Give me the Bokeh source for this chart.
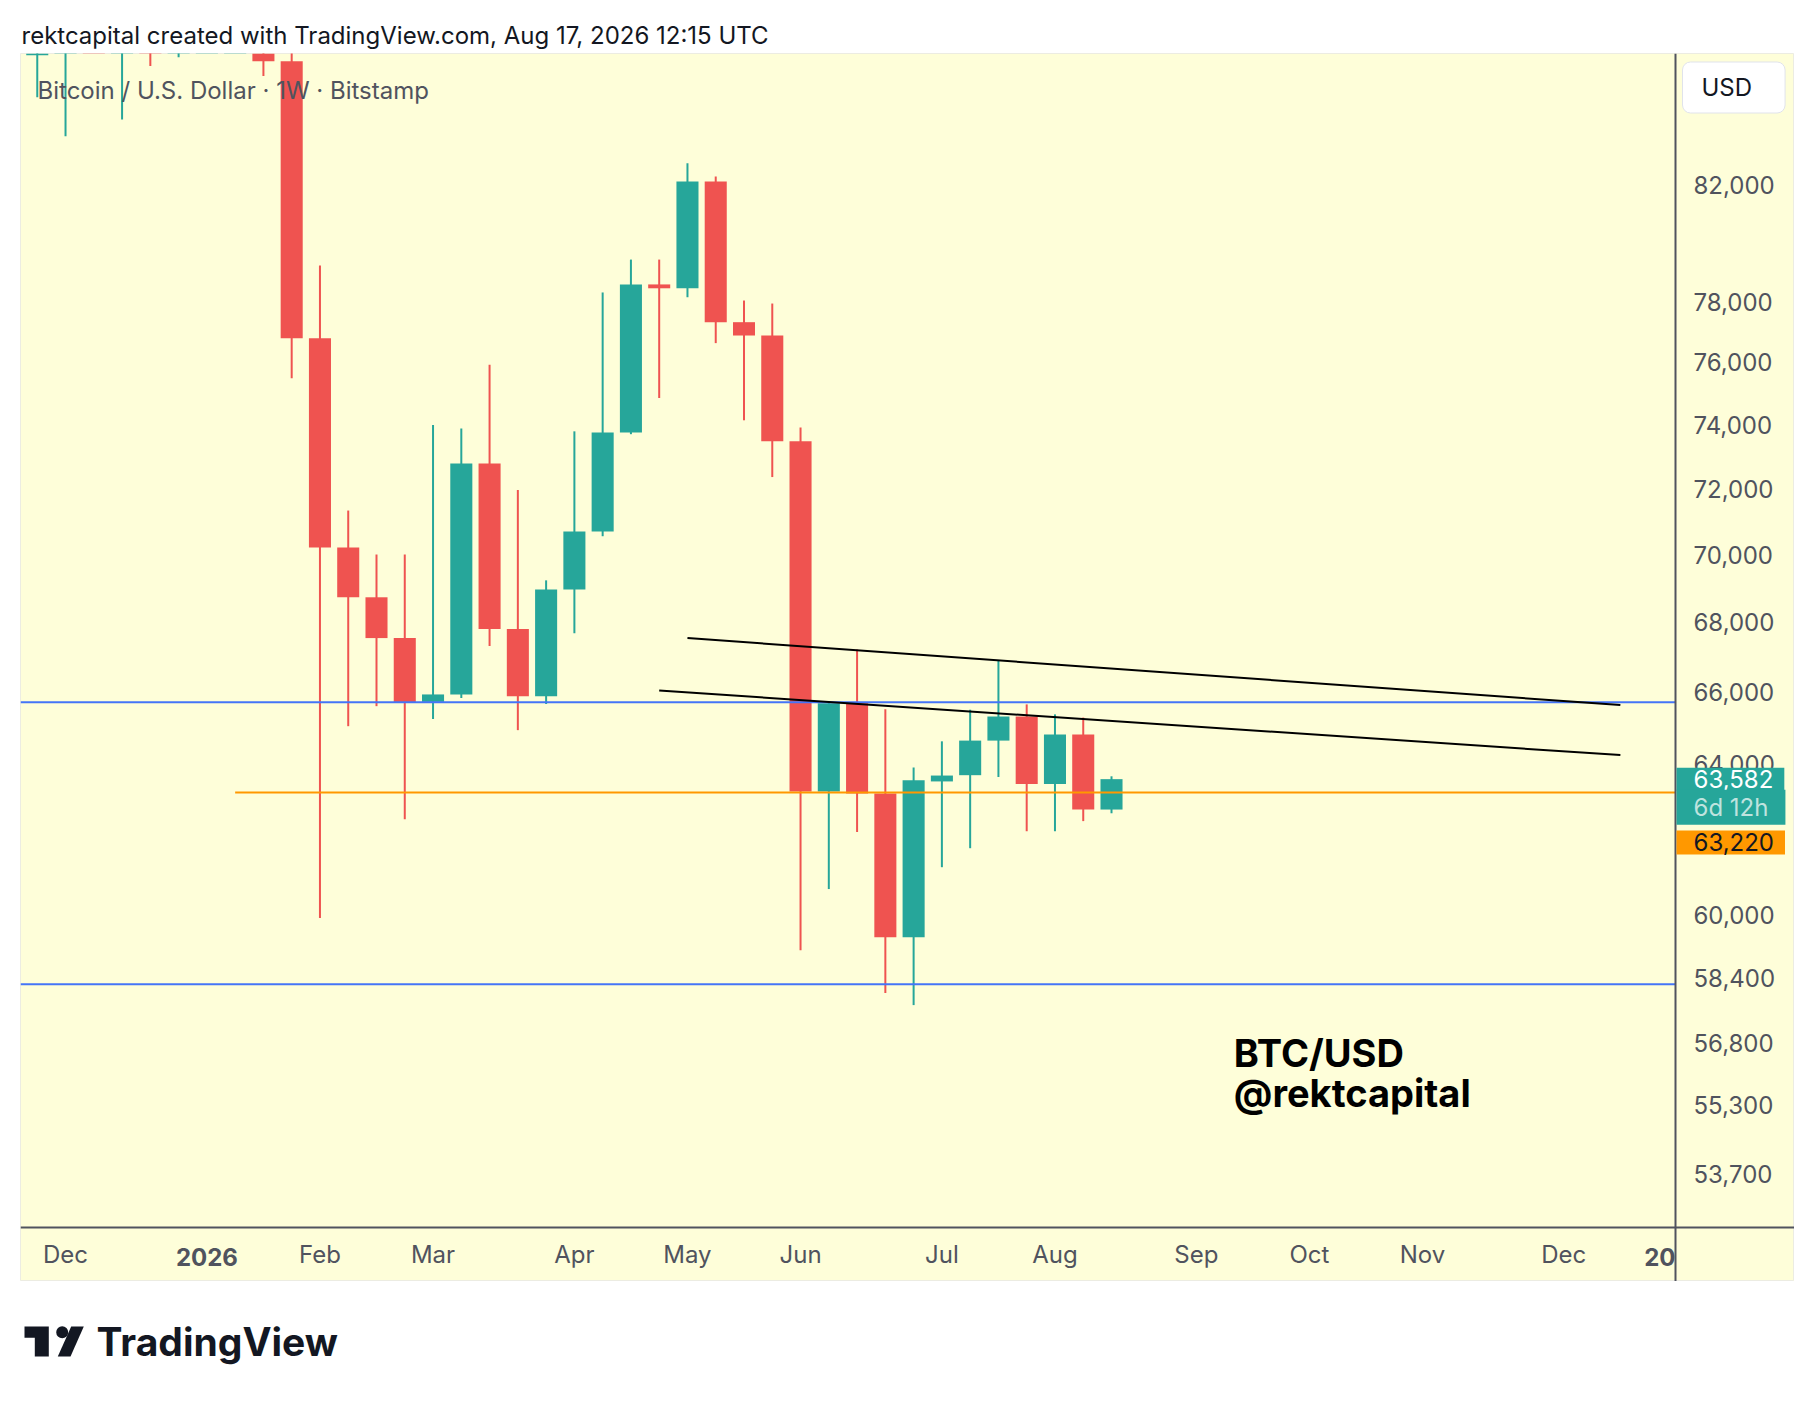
import numpy as np
import pandas as pd
from bokeh.plotting import figure
from bokeh.layouts import column
from bokeh.models import (ColumnDataSource, Range1d, FixedTicker,
                          NumeralTickFormatter, Label)
from bokeh.embed import file_html
from bokeh.resources import INLINE
from bokeh.core.properties import value

# ---------------- data ----------------
TITLE = "rektcapital created with TradingView.com, Aug 17, 2026 12:15 UTC"
SYMBOL = "Bitcoin / U.S. Dollar · 1W · Bitstamp"

WEEKS = ["2025-11-24", "2025-12-01", "2025-12-08", "2025-12-15", "2025-12-22",
         "2025-12-29", "2026-01-05", "2026-01-12", "2026-01-19", "2026-01-26",
         "2026-02-02", "2026-02-09", "2026-02-16", "2026-02-23", "2026-03-02",
         "2026-03-09", "2026-03-16", "2026-03-23", "2026-03-30", "2026-04-06",
         "2026-04-13", "2026-04-20", "2026-04-27", "2026-05-04", "2026-05-11",
         "2026-05-18", "2026-05-25", "2026-06-01", "2026-06-08", "2026-06-15",
         "2026-06-22", "2026-06-29", "2026-07-06", "2026-07-13", "2026-07-20",
         "2026-07-27", "2026-08-03", "2026-08-10", "2026-08-17"]
OPEN = [86680, 90400, 92100, 88300, 88900, 87700, 87900, 91000, 95000, 86460,
        76790, 70210, 68730, 67540, 65720, 65930, 72780, 67800, 65880, 68960,
        70690, 73750, 78580, 78450, 82120, 77320, 76880, 73480, 63250, 65680,
        63190, 59420, 63520, 63690, 64640, 65310, 63450, 64810, 62760]
HIGH = [91900, 94100, 94600, 90400, 90500, 90300, 94700, 97800, 95500, 90200,
        79220, 71330, 70000, 70000, 73990, 73880, 75920, 71960, 69230, 73790,
        78310, 79420, 79420, 82760, 82300, 78040, 77940, 73910, 65740, 67210,
        65510, 63900, 64620, 65500, 66880, 65650, 65370, 65280, 63660]
LOW = [85140, 83730, 87600, 84330, 86280, 86610, 87200, 90300, 85910, 75490,
       59910, 65040, 65600, 62500, 65240, 65830, 67310, 64930, 65660, 67680,
       70550, 73700, 74850, 78150, 76630, 74140, 72360, 59090, 60660, 62160,
       58020, 57720, 61230, 61730, 63640, 62180, 62180, 62450, 62660]
CLOSE = [90400, 92100, 88300, 88900, 87700, 87900, 91000, 95000, 86460, 76790,
         70210, 68730, 67540, 65720, 65930, 72780, 67800, 65880, 68960, 70690,
         73750, 78580, 78450, 82120, 77320, 76880, 73480, 63250, 65680, 63190,
         59420, 63550, 63680, 64640, 65310, 63450, 64810, 62760, 63582]

TICK_DATES = ["2025-12-01", "2026-01-05", "2026-02-02", "2026-03-02", "2026-04-06",
              "2026-05-04", "2026-06-01", "2026-07-06", "2026-08-03", "2026-09-07",
              "2026-10-05", "2026-11-02", "2026-12-07"]
TICK_LABELS = ["Dec", "2026", "Feb", "Mar", "Apr", "May", "Jun", "Jul", "Aug",
               "Sep", "Oct", "Nov", "Dec"]
BOLD_TICKS = ["2026"]
CUT_LABEL = "20"

PRICE_TICKS = [82000, 78000, 76000, 74000, 72000, 70000, 68000, 66000, 64000,
               60000, 58400, 56800, 55300, 53700]

BLUE_LEVELS = [65710, 58240]
ORANGE_LEVEL = 63220
ORANGE_START = "2026-01-12"
TREND_X0 = ["2026-05-04", "2026-04-27"]
TREND_Y0 = [67540, 66040]
TREND_X1 = ["2026-12-21", "2026-12-21"]
TREND_Y1 = [65630, 64240]
LAST_PRICE = 63582
COUNTDOWN = "6d 12h"
CURRENCY = "USD"
NOTE_LINES = ["BTC/USD", "@rektcapital"]
NOTE_PRICES = [56560, 55580]
BRAND = "TradingView"

# ---------------- style ----------------
RED = "#EF5350"
TEAL = "#26A69A"
BLUE = "#4474F7"
ORANGE = "#FF9800"
YELLOW = "#FEFED9"
AXIS = "#50535E"
INK = "#131722"
FONT = "Inter"


def ms(t):
    return int(pd.Timestamp(t).value // 1_000_000)


dates = pd.to_datetime(WEEKS)
last = dates[-1]
week = pd.Timedelta(weeks=1)
x_start = last - 38.593 * week
x_end = last + 24.16 * week
axis_x = last + 19.95 * week          # price-scale separator
axis_y = 52489                         # time-scale separator (price level)

df = pd.DataFrame(dict(date=dates, open=OPEN, high=HIGH, low=LOW, close=CLOSE))
df["top"] = df[["open", "close"]].max(axis=1)
df["bottom"] = df[["open", "close"]].min(axis=1)
df["color"] = np.where(df["close"] >= df["open"], TEAL, RED)
src = ColumnDataSource(df)

FIG_W, FIG_H = 1774, 1228

p = figure(width=FIG_W, height=FIG_H, x_axis_type="datetime", y_axis_type="log",
           x_range=Range1d(ms(x_start), ms(x_end)), y_range=Range1d(51279, 86745),
           y_axis_location="right", toolbar_location=None, output_backend="svg",
           min_border=0, background_fill_color=YELLOW, border_fill_color=YELLOW,
           outline_line_color="#ECECE2", outline_line_width=1,
           margin=(0, 0, 0, 12))
p.grid.visible = False

bar_w = 0.78 * 7 * 24 * 3600 * 1000
p.segment(x0="date", y0="low", x1="date", y1="high", line_color="color",
          line_width=2, source=src)
p.vbar(x="date", width=bar_w, top="top", bottom="bottom", fill_color="color",
       line_color=None, source=src)

# drawings
n_lv = len(BLUE_LEVELS)
p.segment(x0=[x_start] * n_lv, y0=BLUE_LEVELS, x1=[axis_x] * n_lv, y1=BLUE_LEVELS,
          line_color=BLUE, line_width=2)
p.segment(x0=[pd.Timestamp(ORANGE_START)], y0=[ORANGE_LEVEL], x1=[axis_x],
          y1=[ORANGE_LEVEL], line_color=ORANGE, line_width=2)
p.segment(x0=pd.to_datetime(TREND_X0), y0=TREND_Y0, x1=pd.to_datetime(TREND_X1),
          y1=TREND_Y1, line_color="black", line_width=2)

# axes (drawn inside the frame at fixed positions, like TradingView's scales)
ya = p.yaxis[0]
ya.ticker = FixedTicker(ticks=PRICE_TICKS)
ya.formatter = NumeralTickFormatter(format="0,0")
ya.fixed_location = ms(axis_x)
xa = p.xaxis[0]
tick_ms = [ms(d) for d in TICK_DATES]
xa.ticker = FixedTicker(ticks=tick_ms)
xa.major_label_overrides = {t: ("" if lab in BOLD_TICKS else lab)
                            for t, lab in zip(tick_ms, TICK_LABELS)}
xa.fixed_location = axis_y
for ax, standoff in ((ya, 18), (xa, 13)):
    ax.major_tick_line_color = None
    ax.minor_tick_line_color = None
    ax.major_tick_out = 0
    ax.major_tick_in = 0
    ax.minor_tick_out = 0
    ax.minor_tick_in = 0
    ax.axis_line_color = AXIS
    ax.axis_line_width = 2
    ax.major_label_text_font = FONT
    ax.major_label_text_font_size = "24px"
    ax.major_label_text_color = AXIS
    ax.major_label_standoff = standoff

LABEL_Y = 25   # screen px above the frame bottom for the time-scale labels
for t, lab in zip(tick_ms, TICK_LABELS):
    if lab in BOLD_TICKS:
        p.add_layout(Label(x=t, y=LABEL_Y, x_units="data", y_units="screen",
                           text=lab, text_align="center", text_baseline="middle",
                           text_font=FONT, text_font_size="24px",
                           text_font_style="bold", text_color=AXIS))
p.add_layout(Label(x=ms(axis_x), y=LABEL_Y, x_units="data", y_units="screen",
                   text=CUT_LABEL, text_align="right", text_baseline="middle",
                   text_font=FONT, text_font_size="24px", text_font_style="bold",
                   text_color=AXIS))

# symbol legend
p.add_layout(Label(x=17, y=FIG_H - 37, x_units="screen", y_units="screen",
                   text=SYMBOL, text_baseline="middle", text_font=FONT,
                   text_font_size="24px", text_color=AXIS))

# note text
note_x = ms(last + 4.326 * week)
for line, pr in zip(NOTE_LINES, NOTE_PRICES):
    p.add_layout(Label(x=note_x, y=pr, text=line, text_baseline="alphabetic",
                       text_font=FONT, text_font_size="38px",
                       text_font_style="bold", text_color="black"))

# price scale widgets (x = left edge of the box, in px from the frame's left)
p.add_layout(Label(x=1662, y=FIG_H - 34, x_units="screen", y_units="screen",
                   text=CURRENCY, text_baseline="middle", text_font=FONT,
                   text_font_size="24px", text_color=INK,
                   background_fill_color="white", border_line_color="#E0E3EB",
                   border_radius=8,
                   padding=dict(left=19, right=33, top=11, bottom=11)))
p.add_layout(Label(x=1656, y=LAST_PRICE, x_units="screen", text=f"{LAST_PRICE:,}",
                   text_baseline="middle", text_font=FONT, text_font_size="24px",
                   text_color="white", background_fill_color=TEAL,
                   padding=dict(left=17, right=11, top=2, bottom=3)))
p.add_layout(Label(x=1656, y=LAST_PRICE, y_offset=-28, x_units="screen",
                   text=COUNTDOWN, text_baseline="middle", text_font=FONT,
                   text_font_size="24px", text_color="#BFE3DF",
                   background_fill_color=TEAL,
                   padding=dict(left=17, right=17, top=3, bottom=3)))
p.add_layout(Label(x=1656, y=ORANGE_LEVEL, y_offset=-50, x_units="screen",
                   text=f"{ORANGE_LEVEL:,}", text_baseline="middle", text_font=FONT,
                   text_font_size="24px", text_color=INK,
                   background_fill_color=ORANGE,
                   padding=dict(left=17, right=11, top=3, bottom=3)))

# ---------------- header ----------------
TOP_W, TOP_H = 1790, 45
top = figure(width=TOP_W, height=TOP_H, x_range=Range1d(0, TOP_W),
             y_range=Range1d(0, TOP_H), toolbar_location=None,
             output_backend="svg", x_axis_location=None, y_axis_location=None,
             min_border=0, outline_line_color=None,
             background_fill_color="white", border_fill_color="white")
top.grid.visible = False
top.text(x=[13], y=[18], text=[TITLE], text_font=value(FONT),
         text_font_size="24px", text_baseline="middle", text_color=INK)

# ---------------- footer ----------------
BOT_W, BOT_H = 1790, 110
bot = figure(width=BOT_W, height=BOT_H, x_range=Range1d(0, BOT_W),
             y_range=Range1d(0, BOT_H), toolbar_location=None,
             output_backend="svg", x_axis_location=None, y_axis_location=None,
             min_border=0, outline_line_color=None,
             background_fill_color="white", border_fill_color="white")
bot.grid.visible = False
LOGO_SHAPES = [
    ([16, 40.3, 40.3, 26.3, 26.3, 16], [65, 65, 35, 35, 53.7, 53.7]),
    ([62.7, 75.3, 62, 49.3], [65, 65, 35, 35]),
]
bot.patches(xs=[s[0] for s in LOGO_SHAPES], ys=[s[1] for s in LOGO_SHAPES],
            fill_color=INK, line_color=None)
bot.scatter(x=[53.7], y=[59.2], size=12, fill_color=INK, line_color=None)
bot.text(x=[88], y=[50], text=[BRAND], text_font=value(FONT),
         text_font_size="39px", text_font_style="bold",
         text_baseline="alphabetic", text_color=INK)

layout = column(top, p, bot, spacing=0, margin=(8, 0, 0, 8))
open("out.html", "w").write(file_html(layout, INLINE))
